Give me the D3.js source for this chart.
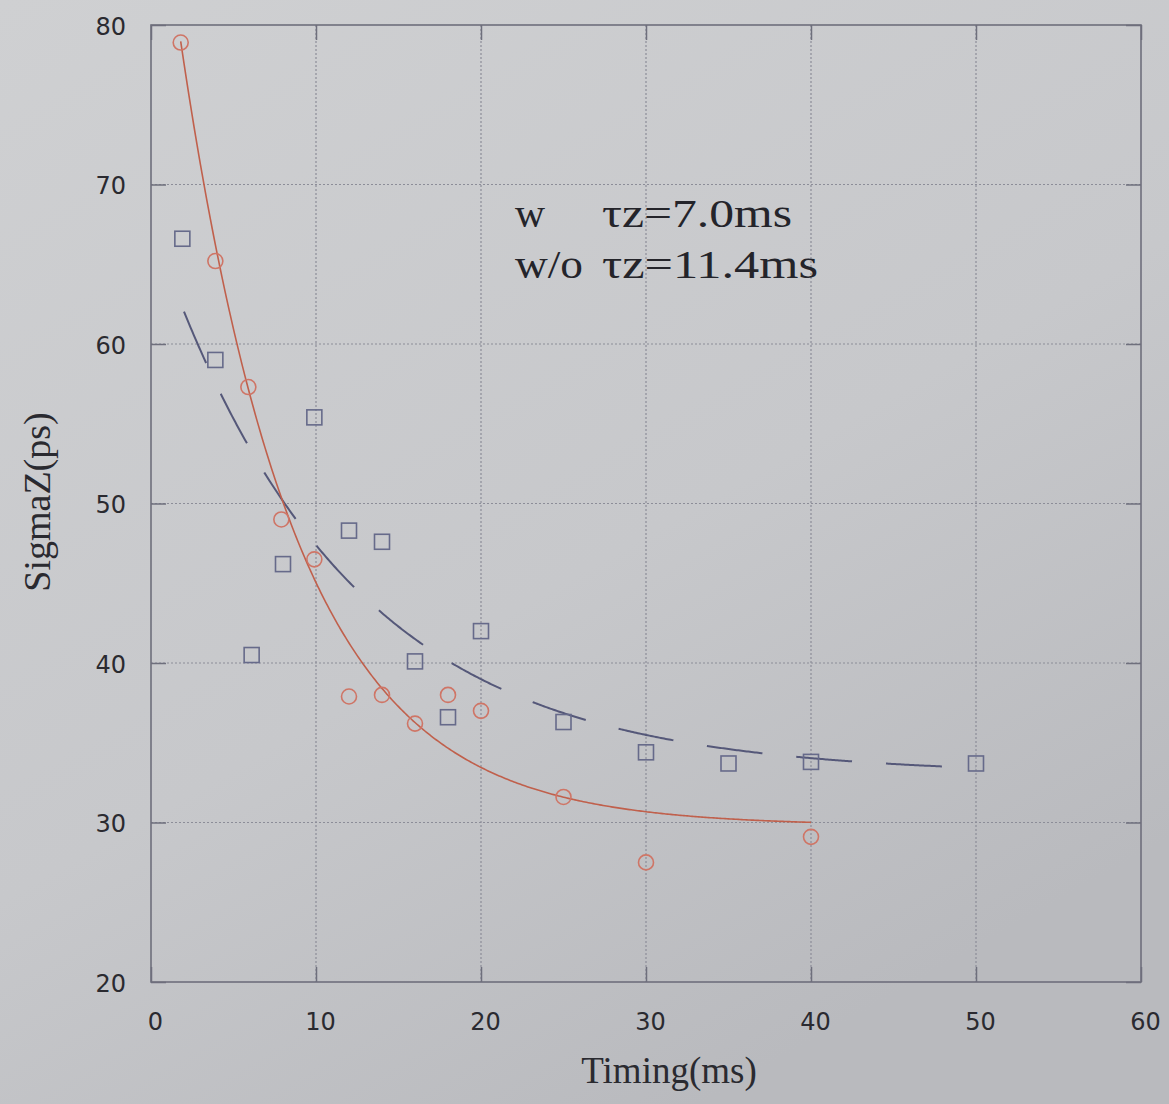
<!DOCTYPE html>
<html>
<head>
<meta charset="utf-8">
<script src="https://cdn.jsdelivr.net/npm/d3@7"></script>
<style>
  html, body { margin: 0; padding: 0; background: #c6c7ca; }
  svg { display: block; }
</style>
</head>
<body>
<svg id="chart" width="1169" height="1104"></svg>
<script>
// Measurement timings (ms) and bunch length (ps)
const timingW   = [1.8, 3.9, 5.9, 7.9, 9.9, 12, 14, 16, 18, 20, 25, 30, 40];
const sigmaW    = [78.9, 65.2, 57.3, 49.0, 46.5, 37.9, 38.0, 36.2, 38.0, 37.0, 31.6, 27.5, 29.1];
const timingWo  = [1.9, 3.9, 6.1, 8, 9.9, 12, 14, 16, 18, 20, 25, 30, 35, 40, 50];
const sigmaWo   = [66.6, 59.0, 40.5, 46.2, 55.4, 48.3, 47.6, 40.1, 36.6, 42.0, 36.3, 34.4, 33.7, 33.8, 33.7];

// Exponential fit parameters: sigma(t) = base + amp * exp(-t / tau)
const fitW  = { tau: 7.0,  base: 29.8, amp: 63.6, from: 1.8, to: 40 };
const fitWo = { tau: 11.4, base: 33.0, amp: 34.6, from: 2, to: 50 };

const xTicks = [0, 10, 20, 30, 40, 50, 60];
const yTicks = [20, 30, 40, 50, 60, 70, 80];
const noteLines = [["w", "\u03c4z=7.0ms"], ["w/o", "\u03c4z=11.4ms"]];

const svg = d3.select("#chart");
const W = 1169, H = 1104;
const m = { left: 151, right: 1141, top: 25, bottom: 982 };

// Paper background with soft light falloff
const defs = svg.append("defs");
const bg = defs.append("linearGradient").attr("id", "paper")
  .attr("x1", "0").attr("y1", "0").attr("x2", "0.6").attr("y2", "1");
bg.append("stop").attr("offset", "0").attr("stop-color", "#cfd0d2");
bg.append("stop").attr("offset", "0.6").attr("stop-color", "#c7c8cb");
bg.append("stop").attr("offset", "1").attr("stop-color", "#b9babe");
svg.append("rect").attr("width", W).attr("height", H).attr("fill", "url(#paper)");

const x = d3.scaleLinear().domain([0, 60]).range([m.left, m.right]);
const y = d3.scaleLinear().domain([20, 80]).range([m.bottom, m.top]);

const frameColor = "#6e6f7c";
const gridColor = "#8c8d98";

// Dotted grid
const grid = svg.append("g");
grid.selectAll("line.gx").data(xTicks.slice(1, -1)).join("line")
  .attr("x1", d => x(d)).attr("x2", d => x(d))
  .attr("y1", m.top).attr("y2", m.bottom)
  .attr("stroke", gridColor).attr("stroke-width", 1.2).attr("stroke-dasharray", "2,2");
grid.selectAll("line.gy").data(yTicks.slice(1, -1)).join("line")
  .attr("y1", d => y(d)).attr("y2", d => y(d))
  .attr("x1", m.left).attr("x2", m.right)
  .attr("stroke", gridColor).attr("stroke-width", 1.2).attr("stroke-dasharray", "2,2");

// Axes with inward ticks
const tickLen = 15;
const axB = svg.append("g").attr("transform", `translate(0,${m.bottom})`)
  .call(d3.axisBottom(x).tickValues(xTicks).tickSize(-tickLen).tickPadding(31).tickFormat(d3.format("d")));
const axT = svg.append("g").attr("transform", `translate(0,${m.top})`)
  .call(d3.axisTop(x).tickValues(xTicks).tickSize(-tickLen).tickFormat(""));
const axL = svg.append("g").attr("transform", `translate(${m.left},0)`)
  .call(d3.axisLeft(y).tickValues(yTicks).tickSize(-tickLen).tickPadding(25).tickFormat(d3.format("d")));
const axR = svg.append("g").attr("transform", `translate(${m.right},0)`)
  .call(d3.axisRight(y).tickValues(yTicks).tickSize(-tickLen).tickFormat(""));

[axB, axT, axL, axR].forEach(a => {
  a.select(".domain").remove();
  a.selectAll(".tick line").attr("stroke", frameColor).attr("stroke-width", 1.5);
  a.selectAll("text").attr("fill", "#2a2a30")
    .style("font-family", "'DejaVu Sans', Verdana, sans-serif").style("font-size", "24px");
});
axB.selectAll("text").attr("dy", "0.71em").attr("dx", "4");
axL.selectAll("text").attr("dy", "0.38em");

svg.append("rect")
  .attr("x", m.left).attr("y", m.top)
  .attr("width", m.right - m.left).attr("height", m.bottom - m.top)
  .attr("fill", "none").attr("stroke", frameColor).attr("stroke-width", 1.6);

// Fit curves
const fitLine = d3.line().x(d => x(d[0])).y(d => y(d[1])).curve(d3.curveLinear);
const fitPoints = f => d3.range(f.from, f.to + 0.001, 0.1).map(t => [t, f.base + f.amp * Math.exp(-t / f.tau)]);

svg.append("path").datum(fitPoints(fitWo))
  .attr("d", fitLine).attr("fill", "none")
  .attr("stroke", "#555879").attr("stroke-width", 2)
  .attr("stroke-dasharray", "56,34");

svg.append("path").datum(fitPoints(fitW))
  .attr("d", fitLine).attr("fill", "none")
  .attr("stroke", "#c0604c").attr("stroke-width", 1.6);

// Markers: squares (w/o) and circles (w)
const sq = 15;
svg.append("g").selectAll("rect").data(timingWo.map((t, i) => [t, sigmaWo[i]])).join("rect")
  .attr("x", d => x(d[0]) - sq / 2).attr("y", d => y(d[1]) - sq / 2)
  .attr("width", sq).attr("height", sq)
  .attr("fill", "none").attr("stroke", "#666a8a").attr("stroke-width", 1.6);

svg.append("g").selectAll("circle").data(timingW.map((t, i) => [t, sigmaW[i]])).join("circle")
  .attr("cx", d => x(d[0])).attr("cy", d => y(d[1])).attr("r", 7.5)
  .attr("fill", "none").attr("stroke", "#cf7566").attr("stroke-width", 1.6);

// Axis titles
const serif = "'Liberation Serif', 'Times New Roman', serif";
svg.append("text").attr("x", 669).attr("y", 1083).attr("text-anchor", "middle")
  .style("font-family", serif).style("font-size", "37px").attr("fill", "#2a2a30")
  .text("Timing(ms)");
svg.append("text").attr("transform", "translate(50,502) rotate(-90)").attr("text-anchor", "middle")
  .style("font-family", serif).style("font-size", "38px").attr("fill", "#2a2a30")
  .text("SigmaZ(ps)");

// Fit annotation (wide serif setting)
const note = svg.append("g").style("font-family", serif).style("font-size", "39px").attr("fill", "#24242a");
const noteWidths = [[30, 190], [68, 216]];
noteLines.forEach((ln, i) => {
  const by = 227 + i * 51;
  note.append("text").attr("x", 515).attr("y", by)
    .attr("textLength", noteWidths[i][0]).attr("lengthAdjust", "spacingAndGlyphs").text(ln[0]);
  note.append("text").attr("x", 602).attr("y", by)
    .attr("textLength", noteWidths[i][1]).attr("lengthAdjust", "spacingAndGlyphs").text(ln[1]);
});
</script>
</body>
</html>
